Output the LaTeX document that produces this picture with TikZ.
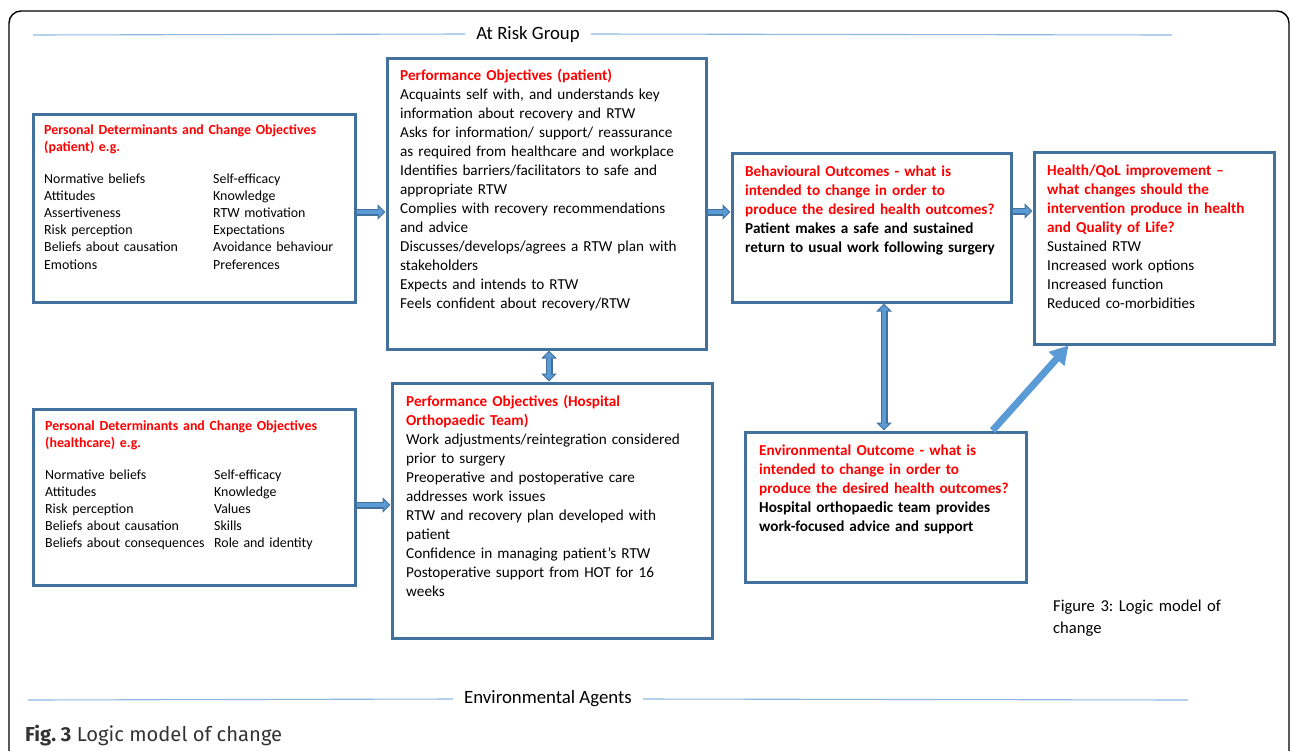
\documentclass[tikz,border=0pt]{standalone}
\usepackage{fontspec}
\setmainfont{Carlito}
\newfontfamily\figfont{Fira Sans}
\usetikzlibrary{arrows.meta}
\definecolor{boxblue}{HTML}{41719C}
\definecolor{arrfill}{HTML}{5B9BD5}
\definecolor{rulblue}{HTML}{8DB7E1}
\definecolor{titred}{HTML}{FF0000}
\frenchspacing

\begin{document}
\begin{tikzpicture}[x=1pt, y=-1pt,
    box/.style={draw=boxblue, line width=3pt, inner sep=0pt},
    txt/.style={anchor=base west, inner sep=0pt, align=left, text width=310,
      font=\fontsize{15.2}{19}\selectfont},
    small/.style={anchor=base west, inner sep=0pt, align=left, text width=300,
      font=\fontsize{13.9}{17.2}\selectfont},
    band/.style={inner xsep=11pt, font=\fontsize{18.8}{22}\selectfont},
    rul/.style={draw=rulblue, line width=1.1pt},
    blockarr/.style={draw=boxblue, line width=7pt, -{Triangle[width=15pt,length=8pt]},
      postaction={draw=arrfill, line width=4pt, -{Triangle[width=10pt,length=5.5pt]}, shorten >=1.5pt}},
    blockboth/.style={draw=boxblue, line width=7pt, {Triangle[width=15pt,length=8pt]}-{Triangle[width=15pt,length=8pt]},
      postaction={draw=arrfill, line width=4pt, {Triangle[width=10pt,length=5.5pt]}-{Triangle[width=10pt,length=5.5pt]}, shorten >=1.5pt, shorten <=1.5pt}}]
  \useasboundingbox (0,0) rectangle (1292,750);

  % outer frame
  \draw [line width=1.4pt, rounded corners=12pt] (9,760) -- (9,11) -- (1289,11) -- (1289,760);

  % bands
  \node [band] (atrisk) at (528,34) {At Risk Group};
  \coordinate (risk1) at (33,35);
  \coordinate (risk2) at (1172,35);
  \draw [rul] (risk1) -- (atrisk.west);
  \draw [rul] (atrisk.east) -- (risk2);
  \node [band] (envagents) at (548,699) {Environmental Agents};
  \coordinate (env1) at (28,700);
  \coordinate (env2) at (1188,700);
  \draw [rul] (env1) -- (envagents.west);
  \draw [rul] (envagents.east) -- (env2);

  % boxes
  \node [box, minimum width=322, minimum height=188] (pdpat) at (194,208) {};
  \node [box, minimum width=319, minimum height=291] (popat) at (546.5,203.5) {};
  \node [box, minimum width=279, minimum height=149] (behout) at (871.5,227.5) {};
  \node [box, minimum width=240, minimum height=192] (health) at (1154,248) {};
  \node [box, minimum width=322, minimum height=176] (pdhc) at (194,497) {};
  \node [box, minimum width=320, minimum height=255] (pohot) at (552,510.5) {};
  \node [box, minimum width=281, minimum height=150] (envout) at (885.5,507) {};

  % texts
  \node [small, font=\fontsize{13.9}{17.5}\selectfont\bfseries, text=titred] (pdpattitle) at (44,134)
    {Personal Determinants and Change Objectives\\(patient) e.g.};
  \node [small] (pdpatcol1) at (44,183)
    {Normative beliefs\\Attitudes\\Assertiveness\\Risk perception\\Beliefs about causation\\Emotions};
  \node [small, text width=150] (pdpatcol2) at (213,183)
    {Self-efficacy\\Knowledge\\RTW motivation\\Expectations\\Avoidance behaviour\\Preferences};

  \node [txt] (popattext) at (400,80)
    {{\color{titred}\bfseries Performance Objectives (patient)}\\
     Acquaints self with, and understands key\\
     information about recovery and RTW\\
     Asks for information/ support/ reassurance\\
     as required from healthcare and workplace\\
     Identifies barriers/facilitators to safe and\\
     appropriate RTW\\
     Complies with recovery recommendations\\
     and advice\\
     Discusses/develops/agrees a RTW plan with\\
     stakeholders\\
     Expects and intends to RTW\\
     Feels confident about recovery/RTW};

  \node [txt, font=\fontsize{15.2}{19}\selectfont\bfseries] (behouttext) at (745,176)
    {{\color{titred}Behavioural Outcomes - what is\\
     intended to change in order to\\
     produce the desired health outcomes?}\\
     Patient makes a safe and sustained\\
     return to usual work following surgery};

  \node [txt, text width=225] (healthtext) at (1047,175)
    {{\color{titred}\bfseries Health/QoL improvement --\\
     what changes should the\\
     intervention produce in health\\
     and Quality of Life?}\\
     Sustained RTW\\
     Increased work options\\
     Increased function\\
     Reduced co-morbidities};

  \node [small, font=\fontsize{13.9}{17.5}\selectfont\bfseries, text=titred] (pdhctitle) at (45,430)
    {Personal Determinants and Change Objectives\\(healthcare) e.g.};
  \node [small] (pdhccol1) at (45,479)
    {Normative beliefs\\Attitudes\\Risk perception\\Beliefs about causation\\Beliefs about consequences};
  \node [small, text width=150] (pdhccol2) at (214,479)
    {Self-efficacy\\Knowledge\\Values\\Skills\\Role and identity};

  \node [txt] (pohottext) at (406,406)
    {{\color{titred}\bfseries Performance Objectives (Hospital\\
     Orthopaedic Team)}\\
     Work adjustments/reintegration considered\\
     prior to surgery\\
     Preoperative and postoperative care\\
     addresses work issues\\
     RTW and recovery plan developed with\\
     patient\\
     Confidence in managing patient’s RTW\\
     Postoperative support from HOT for 16\\
     weeks};

  \node [txt, font=\fontsize{15.2}{19}\selectfont\bfseries] (envouttext) at (759,455)
    {{\color{titred}Environmental Outcome - what is\\
     intended to change in order to\\
     produce the desired health outcomes?}\\
     Hospital orthopaedic team provides\\
     work-focused advice and support};

  \node [txt, text width=200, font=\fontsize{16.6}{22}\selectfont] (fignote) at (1053,611)
    {Figure 3: Logic model of\\change};

  \node [anchor=base west, inner sep=0pt, text=black!80, font=\figfont\fontsize{20.2}{22}\selectfont] (caption) at (25,741)
    {\textbf{Fig. 3} Logic model of change};

  % arrows
  \draw [blockarr] ([yshift=-4]pdpat.east) -- ([yshift=-4]pdpat.east -| popat.west);
  \draw [blockarr] ([yshift=-8.5]popat.east) -- ([yshift=-8.5]popat.east -| behout.west);
  \draw [blockarr] ([yshift=16.5]behout.east) -- ([yshift=16.5]behout.east -| health.west);
  \draw [blockarr] ([yshift=-8]pdhc.east) -- ([yshift=-8]pdhc.east -| pohot.west);
  \draw [blockboth] ([xshift=2.5]popat.south) -- ([xshift=2.5]popat.south |- pohot.north);
  \draw [blockboth] ([xshift=12.5]behout.south) -- ([xshift=12.5]behout.south |- envout.north);
  \draw [draw=arrfill, line width=7pt, -{Triangle[width=20pt,length=18pt]}]
    ([xshift=107]envout.north) -- ([xshift=36]health.south west);
\end{tikzpicture}
\end{document}
